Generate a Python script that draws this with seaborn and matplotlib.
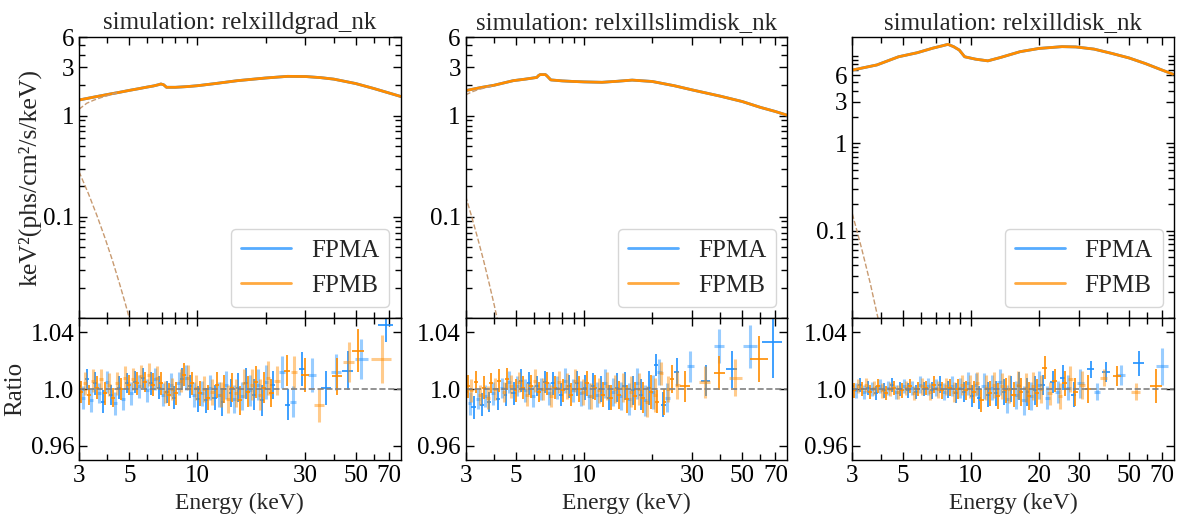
import numpy as np
import matplotlib
matplotlib.use("Agg")
import matplotlib.pyplot as plt
import matplotlib.ticker as ticker
import seaborn as sns


titles = ["simulation: relxilldgrad_nk",
          "simulation: relxillslimdisk_nk",
          "simulation: relxilldisk_nk"]

# -----------------------------
# model curves, E^2 F (keV^2 phs/cm^2/s/keV)
# -----------------------------
model_e_1 = [3.0, 3.5, 4.0, 4.5, 5.0, 5.5, 6.0, 6.4, 6.7, 6.9, 7.1, 7.3, 8.0, 9.0, 10.0,
             12.0, 15.0, 20.0, 25.0, 30.0, 35.0, 40.0, 50.0, 60.0, 70.0, 79.0]
model_f_1 = [1.43, 1.53, 1.62, 1.70, 1.78, 1.85, 1.92, 1.97, 2.02, 2.06, 2.02, 1.91, 1.91, 1.94, 1.98,
             2.08, 2.22, 2.36, 2.45, 2.44, 2.38, 2.30, 2.08, 1.86, 1.68, 1.55]

model_e_2 = [3.0, 3.5, 4.0, 4.86, 5.5, 6.18, 6.3, 6.4, 6.75, 6.85, 7.13, 8.0, 9.0, 10.0, 12.0,
             14.0, 16.3, 20.0, 25.0, 30.0, 40.0, 50.0, 60.0, 70.0, 79.0]
model_f_2 = [1.77, 1.90, 2.00, 2.22, 2.30, 2.39, 2.50, 2.55, 2.55, 2.48, 2.26, 2.21, 2.18, 2.16, 2.14,
             2.19, 2.25, 2.18, 1.98, 1.80, 1.56, 1.38, 1.21, 1.10, 1.01]

model_e_3 = [3.0, 3.85, 4.8, 5.8, 6.8, 7.5, 7.93, 8.4, 8.9, 9.4, 10.5, 11.9, 13.5, 16.5, 20.0,
             25.3, 29.1, 35.0, 42.0, 50.0, 59.0, 68.0, 78.0]
model_f_3 = [6.9, 7.9, 9.8, 10.9, 12.3, 13.1, 13.6, 12.8, 11.7, 9.8, 9.2, 8.8, 9.6, 11.2, 12.2,
             12.8, 12.7, 12.0, 10.7, 9.5, 8.2, 7.1, 6.2]

# thermal (disk) component
therm_e_1 = [3.0, 3.3, 3.6, 3.9, 4.2, 4.5, 4.8, 5.1]
therm_f_1 = [0.28, 0.17, 0.103, 0.0625, 0.038, 0.023, 0.014, 0.0085]
therm_e_2 = [3.0, 3.2, 3.4, 3.6, 3.8, 4.0, 4.2]
therm_f_2 = [0.16, 0.098, 0.060, 0.037, 0.0225, 0.0138, 0.0084]
therm_e_3 = [3.0, 3.15, 3.3, 3.45, 3.6, 3.75, 3.9]
therm_f_3 = [0.156, 0.098, 0.062, 0.039, 0.025, 0.0155, 0.0098]

# non-thermal component (only visible below ~4.5 keV)
comp_e_1 = [3.0, 3.25, 3.5, 3.75, 4.0, 4.25, 4.5]
comp_f_1 = [1.16, 1.33, 1.43, 1.51, 1.575, 1.65, 1.70]
comp_e_2 = [3.0, 3.2, 3.4, 3.6, 3.8, 4.0]
comp_f_2 = [1.61, 1.72, 1.81, 1.87, 1.93, 1.97]
comp_e_3 = []
comp_f_3 = []

# -----------------------------
# ratio data: deviation from 1 and 1-sigma errors, in units of 1e-3
# -----------------------------
e_dense_a = [3.00, 3.12, 3.25, 3.39, 3.53, 3.67, 3.82, 3.98, 4.15, 4.32,
             4.50, 4.68, 4.88, 5.08, 5.29, 5.51, 5.73, 5.97, 6.22, 6.47,
             6.74, 7.02, 7.31, 7.61, 7.92, 8.25, 8.59, 8.94, 9.31, 9.70,
             10.1, 10.5, 10.9, 11.4, 11.9, 12.4, 12.9, 13.4, 14.0, 14.5,
             15.1, 15.8, 16.4, 17.1, 17.8, 18.5, 19.3, 20.1]
e_dense_b = [3.06, 3.18, 3.32, 3.46, 3.60, 3.75, 3.90, 4.06, 4.23, 4.41,
             4.59, 4.78, 4.98, 5.18, 5.40, 5.62, 5.85, 6.10, 6.35, 6.60,
             6.88, 7.16, 7.46, 7.76, 8.08, 8.42, 8.76, 9.12, 9.50, 9.90,
             10.3, 10.7, 11.15, 11.65, 12.15, 12.65, 13.15, 13.7, 14.25, 14.8,
             15.45, 16.1, 16.75, 17.45, 18.15, 18.9, 19.7, 20.5]

dev_a_1 = [2, -6, 7, -8, 4, -3, -9, 5, -4, -10,
           1, -7, 4, -3, 5, 2, 8, -1, 4, 7,
           1, -4, -2, 3, -6, 4, 7, 8, 2, -4,
           -7, -3, -8, 1, -6, -4, -9, 3, -3, -7,
           1, -5, 4, -1, -4, 3, -8, 5]
dev_b_1 = [-2, 4, -4, 6, 1, 7, -3, 3, -6, 4,
           0, 8, 3, 7, 4, 9, 5, 10, 3, 8,
           4, -2, -4, 0, -3, 6, 10, 8, 4, 1,
           -3, 0, -6, -2, 3, -4, 0, -7, 1, -3,
           -8, 4, -2, 3, 5, -4, 1, 8]
err_1 = [8, 8, 7, 8, 8, 7, 8, 8, 7, 8,
         8, 8, 7, 8, 8, 8, 7, 8, 8, 8,
         8, 8, 8, 8, 8, 8, 8, 9, 8, 9,
         9, 9, 9, 9, 9, 9, 10, 10, 10, 10,
         10, 10, 11, 11, 11, 11, 11, 12]

dev_a_2 = [-2, -10, -13, -7, -11, -5, -9, -3, -7, 1,
           -4, 5, -3, 2, 6, -1, 4, -5, 2, 0,
           5, -3, 4, 1, -4, 6, 2, -1, 4, -3,
           1, -5, 2, -4, 0, 4, -6, -2, 1, -5,
           2, -7, -1, 4, -4, -8, 1, -2]
dev_b_2 = [2, -1, 5, -4, 1, -6, 4, 0, 6, -2,
           7, 2, -1, 5, 1, -4, 2, 6, -2, 0,
           4, -5, 1, 5, -1, 2, -4, 6, 0, -2,
           4, -5, 1, -1, -4, 2, -6, 0, -4, 1,
           -7, -2, -5, 0, -6, -9, -2, -4]
err_2 = [8, 8, 8, 7, 8, 8, 7, 8, 8, 7,
         8, 8, 8, 7, 8, 8, 8, 8, 7, 8,
         8, 8, 8, 8, 8, 9, 8, 8, 9, 9,
         9, 9, 9, 9, 9, 10, 9, 10, 10, 10,
         10, 11, 10, 11, 11, 11, 12, 12]

dev_a_3 = [2, -1, 3, -2, 1, 0, -3, 2, -1, 1,
           3, -2, 0, 2, -1, 1, -2, 3, 0, 2,
           -1, 1, 3, -2, 0, 2, -3, 1, -2, 4,
           -5, 3, -6, 2, -4, 1, -3, 5, -2, -7,
           0, -4, 2, -8, -2, -5, -1, 3]
dev_b_3 = [-1, 2, 0, 3, -2, 1, 2, -1, -3, 0,
           1, -2, -1, 1, 2, -3, 0, 2, 1, -2,
           3, 0, -1, 2, 1, -2, 0, 3, -1, 2,
           -2, 4, -8, 1, -3, 3, -5, 2, -1, 0,
           -4, 3, -2, 1, -5, 2, -3, 0]
err_3 = [5, 5, 5, 5, 5, 5, 5, 5, 5, 5,
         5, 5, 5, 5, 5, 5, 5, 6, 5, 6,
         6, 6, 6, 6, 6, 7, 7, 7, 7, 8,
         8, 8, 8, 9, 9, 9, 9, 9, 9, 10,
         9, 10, 10, 10, 10, 10, 10, 10]

# high-energy (wide) bins
hi_e_a_1 = [21.5, 23.6, 25.0, 26.5, 29.0, 32.0, 37.0, 41.0, 46.0, 53.0, 68.0]
hi_dev_a_1 = [3, 12, -11, -9, 14, 10, 1, 12, 13, 21, 45]
hi_err_a_1 = [10, 11, 11, 11, 12, 12, 12, 13, 14, 14, 12]
hi_hw_a_1 = [0.6, 0.7, 0.7, 0.8, 1.0, 1.3, 2.0, 2.2, 2.6, 3.5, 5.0]
hi_e_b_1 = [21.2, 22.5, 24.9, 26.7, 30.0, 34.5, 41.4, 46.5, 51.3, 65.0]
hi_dev_b_1 = [-3, 6, 13, 12, 10, -11, 9, 19, 27, 21]
hi_err_b_1 = [10, 10, 11, 11, 12, 12, 13, 14, 15, 17]
hi_hw_b_1 = [0.6, 0.7, 0.8, 0.9, 1.2, 1.8, 2.2, 2.5, 3.0, 6.5]

hi_e_a_2 = [20.8, 21.5, 22.4, 23.3, 25.6, 29.5, 34.5, 39.5, 45.0, 54.3, 68.0]
hi_dev_a_2 = [17, 12, -11, -6, 12, 16, 6, 30, 14, 30, 33]
hi_err_a_2 = [8, 9, 9, 10, 10, 11, 11, 12, 13, 15, 25]
hi_hw_a_2 = [0.5, 0.5, 0.6, 0.6, 0.7, 1.0, 1.6, 2.0, 2.5, 4.0, 7.0]
hi_e_b_2 = [21.0, 21.8, 22.6, 23.5, 24.5, 25.8, 28.0, 34.1, 39.5, 46.6, 59.5]
hi_dev_b_2 = [-9, 11, -9, 0, 7, 3, 2, 5, 11, 8, 21]
hi_err_b_2 = [8, 8, 9, 9, 10, 10, 11, 11, 12, 13, 16]
hi_hw_b_2 = [0.4, 0.4, 0.4, 0.5, 0.5, 0.6, 1.4, 2.0, 2.2, 3.0, 5.5]

hi_e_a_3 = [20.8, 21.8, 23.0, 24.2, 25.5, 27.0, 28.5, 30.5, 33.9, 36.1, 39.5, 46.0, 55.2, 70.0]
hi_dev_a_3 = [3, -6, 5, -2, 8, 1, -4, 4, 14, -2, 12, 10, 18, 16]
hi_err_a_3 = [7, 8, 8, 8, 9, 9, 9, 10, 6, 6, 7, 7, 9, 13]
hi_hw_a_3 = [0.5, 0.5, 0.6, 0.6, 0.6, 0.7, 0.7, 1.0, 1.2, 1.2, 1.5, 2.0, 3.0, 4.5]
hi_e_b_3 = [21.2, 22.3, 23.5, 24.8, 26.0, 27.5, 29.0, 31.0, 33.0, 38.6, 44.3, 53.5, 65.6]
hi_dev_b_3 = [15, -3, 6, -5, 4, 7, -2, 3, 0, 8, 9, -2, 2]
hi_err_b_3 = [8, 8, 8, 9, 9, 9, 10, 10, 10, 6, 7, 6, 12]
hi_hw_b_3 = [0.5, 0.5, 0.6, 0.6, 0.6, 0.7, 0.8, 0.9, 1.0, 1.2, 1.8, 2.5, 4.0]

y_tops = [6.0, 6.0, 16.5]
x_majors = [[3, 5, 10, 30, 50, 70], [3, 5, 10, 30, 50, 70], [3, 5, 10, 20, 30, 50, 70]]

panels = [
    dict(model=(model_e_1, model_f_1), therm=(therm_e_1, therm_f_1), comp=(comp_e_1, comp_f_1),
         a=(dev_a_1, hi_e_a_1, hi_dev_a_1, hi_err_a_1, hi_hw_a_1),
         b=(dev_b_1, hi_e_b_1, hi_dev_b_1, hi_err_b_1, hi_hw_b_1), err=err_1),
    dict(model=(model_e_2, model_f_2), therm=(therm_e_2, therm_f_2), comp=(comp_e_2, comp_f_2),
         a=(dev_a_2, hi_e_a_2, hi_dev_a_2, hi_err_a_2, hi_hw_a_2),
         b=(dev_b_2, hi_e_b_2, hi_dev_b_2, hi_err_b_2, hi_hw_b_2), err=err_2),
    dict(model=(model_e_3, model_f_3), therm=(therm_e_3, therm_f_3), comp=(comp_e_3, comp_f_3),
         a=(dev_a_3, hi_e_a_3, hi_dev_a_3, hi_err_a_3, hi_hw_a_3),
         b=(dev_b_3, hi_e_b_3, hi_dev_b_3, hi_err_b_3, hi_hw_b_3), err=err_3),
]

# -----------------------------
# style
# -----------------------------
FS = 18
sns.set_theme(style="ticks")
plt.rcParams.update({
    "font.family": ["Liberation Serif", "DejaVu Serif"],
    "font.size": FS,
    "axes.edgecolor": "black",
    "axes.linewidth": 1.0,
    "xtick.direction": "in", "ytick.direction": "in",
    "xtick.top": True, "ytick.right": True,
    "xtick.major.size": 6, "ytick.major.size": 6,
    "xtick.minor.size": 4, "ytick.minor.size": 4,
    "xtick.major.width": 1, "ytick.major.width": 1,
    "xtick.minor.width": 1, "ytick.minor.width": 1,
    "xtick.color": "black", "ytick.color": "black",
    "xtick.labelsize": FS, "ytick.labelsize": FS,
})

BLUE = "#1e90ff"
ORANGE = "#ff8c00"
DASH = "#c89a70"


def draw_ratio(ax, e, dev, err, hw, color):
    e = np.asarray(e, float)
    r = 1 + np.asarray(dev, float) / 1000
    yerr = np.asarray(err, float) / 1000
    hw = np.asarray(hw, float)
    # light and dark bins alternate
    for k, (alpha, lw) in enumerate([(0.45, 2.2), (1.0, 1.2)]):
        sl = slice(1 - k, None, 2)
        ax.errorbar(e[sl], r[sl], yerr=yerr[sl], xerr=hw[sl], fmt="none",
                    ecolor=color, elinewidth=lw, alpha=alpha, capsize=0)


fig = plt.figure(figsize=(11.81, 5.14), dpi=100)
gs = fig.add_gridspec(2, 3, height_ratios=[281, 142], left=0.0669, right=0.9941,
                      top=0.928, bottom=0.105, wspace=0.2019, hspace=0)

for i, p in enumerate(panels):
    ax = fig.add_subplot(gs[0, i])
    axr = fig.add_subplot(gs[1, i], sharex=ax)
    ax.set_xscale("log")
    ax.set_yscale("log")

    me, mf = p["model"]
    sns.lineplot(x=me, y=mf, ax=ax, color=BLUE, lw=2, label="FPMA")
    sns.lineplot(x=me, y=mf, ax=ax, color=ORANGE, lw=2, label="FPMB")
    te, tf = p["therm"]
    sns.lineplot(x=te, y=tf, ax=ax, color=DASH, lw=1, linestyle="--")
    ce, cf = p["comp"]
    if len(ce):
        sns.lineplot(x=ce, y=cf, ax=ax, color=DASH, lw=1, linestyle="--")

    ax.set_xlim(3, 79)
    ax.set_ylim(0.01, y_tops[i])
    ax.yaxis.set_major_locator(ticker.FixedLocator([0.1, 1, 3, 6]))
    ax.yaxis.set_major_formatter(ticker.FuncFormatter(lambda v, pos: f"{v:g}"))
    ax.yaxis.set_minor_locator(ticker.LogLocator(base=10, subs=np.arange(1, 10), numticks=20))
    ax.yaxis.set_minor_formatter(ticker.NullFormatter())
    ax.tick_params(labelbottom=False)
    ax.set_title(titles[i], fontsize=FS)
    leg = ax.legend(loc="lower right", fontsize=FS, frameon=True, borderaxespad=0.45)
    for h in leg.get_lines():
        h.set_alpha(0.75)

    # ratio panel
    dev_a, he_a, hd_a, herr_a, hhw_a = p["a"]
    dev_b, he_b, hd_b, herr_b, hhw_b = p["b"]
    hw_a = np.gradient(e_dense_a) / 2
    hw_b = np.gradient(e_dense_b) / 2
    draw_ratio(axr, np.concatenate([e_dense_a, he_a]), np.concatenate([dev_a, hd_a]),
               np.concatenate([p["err"], herr_a]), np.concatenate([hw_a, hhw_a]), BLUE)
    draw_ratio(axr, np.concatenate([e_dense_b, he_b]), np.concatenate([dev_b, hd_b]),
               np.concatenate([p["err"], herr_b]), np.concatenate([hw_b, hhw_b]), ORANGE)
    axr.axhline(1.0, color="gray", ls="--", lw=1.2)
    axr.set_ylim(0.95, 1.05)
    axr.set_yticks([0.96, 1.0, 1.04])
    axr.set_yticklabels(["0.96", "1.0", "1.04"])
    axr.xaxis.set_major_locator(ticker.FixedLocator(x_majors[i]))
    axr.xaxis.set_major_formatter(ticker.FuncFormatter(lambda v, pos: f"{v:g}"))
    minors = [m for m in [4, 6, 7, 8, 9, 20, 40, 60] if m not in x_majors[i]]
    axr.xaxis.set_minor_locator(ticker.FixedLocator(minors))
    axr.xaxis.set_minor_formatter(ticker.NullFormatter())
    axr.set_xlabel("Energy (keV)", fontsize=17)
    axr.set_xlim(3, 79)

    if i == 0:
        ax.set_ylabel("keV²(phs/cm²/s/keV)", fontsize=18.5)
        axr.set_ylabel("Ratio", fontsize=FS)
        ax.yaxis.set_label_coords(-0.118, 0.5)
        axr.yaxis.set_label_coords(-0.165, 0.5)

fig.savefig("out.png", dpi=100)
